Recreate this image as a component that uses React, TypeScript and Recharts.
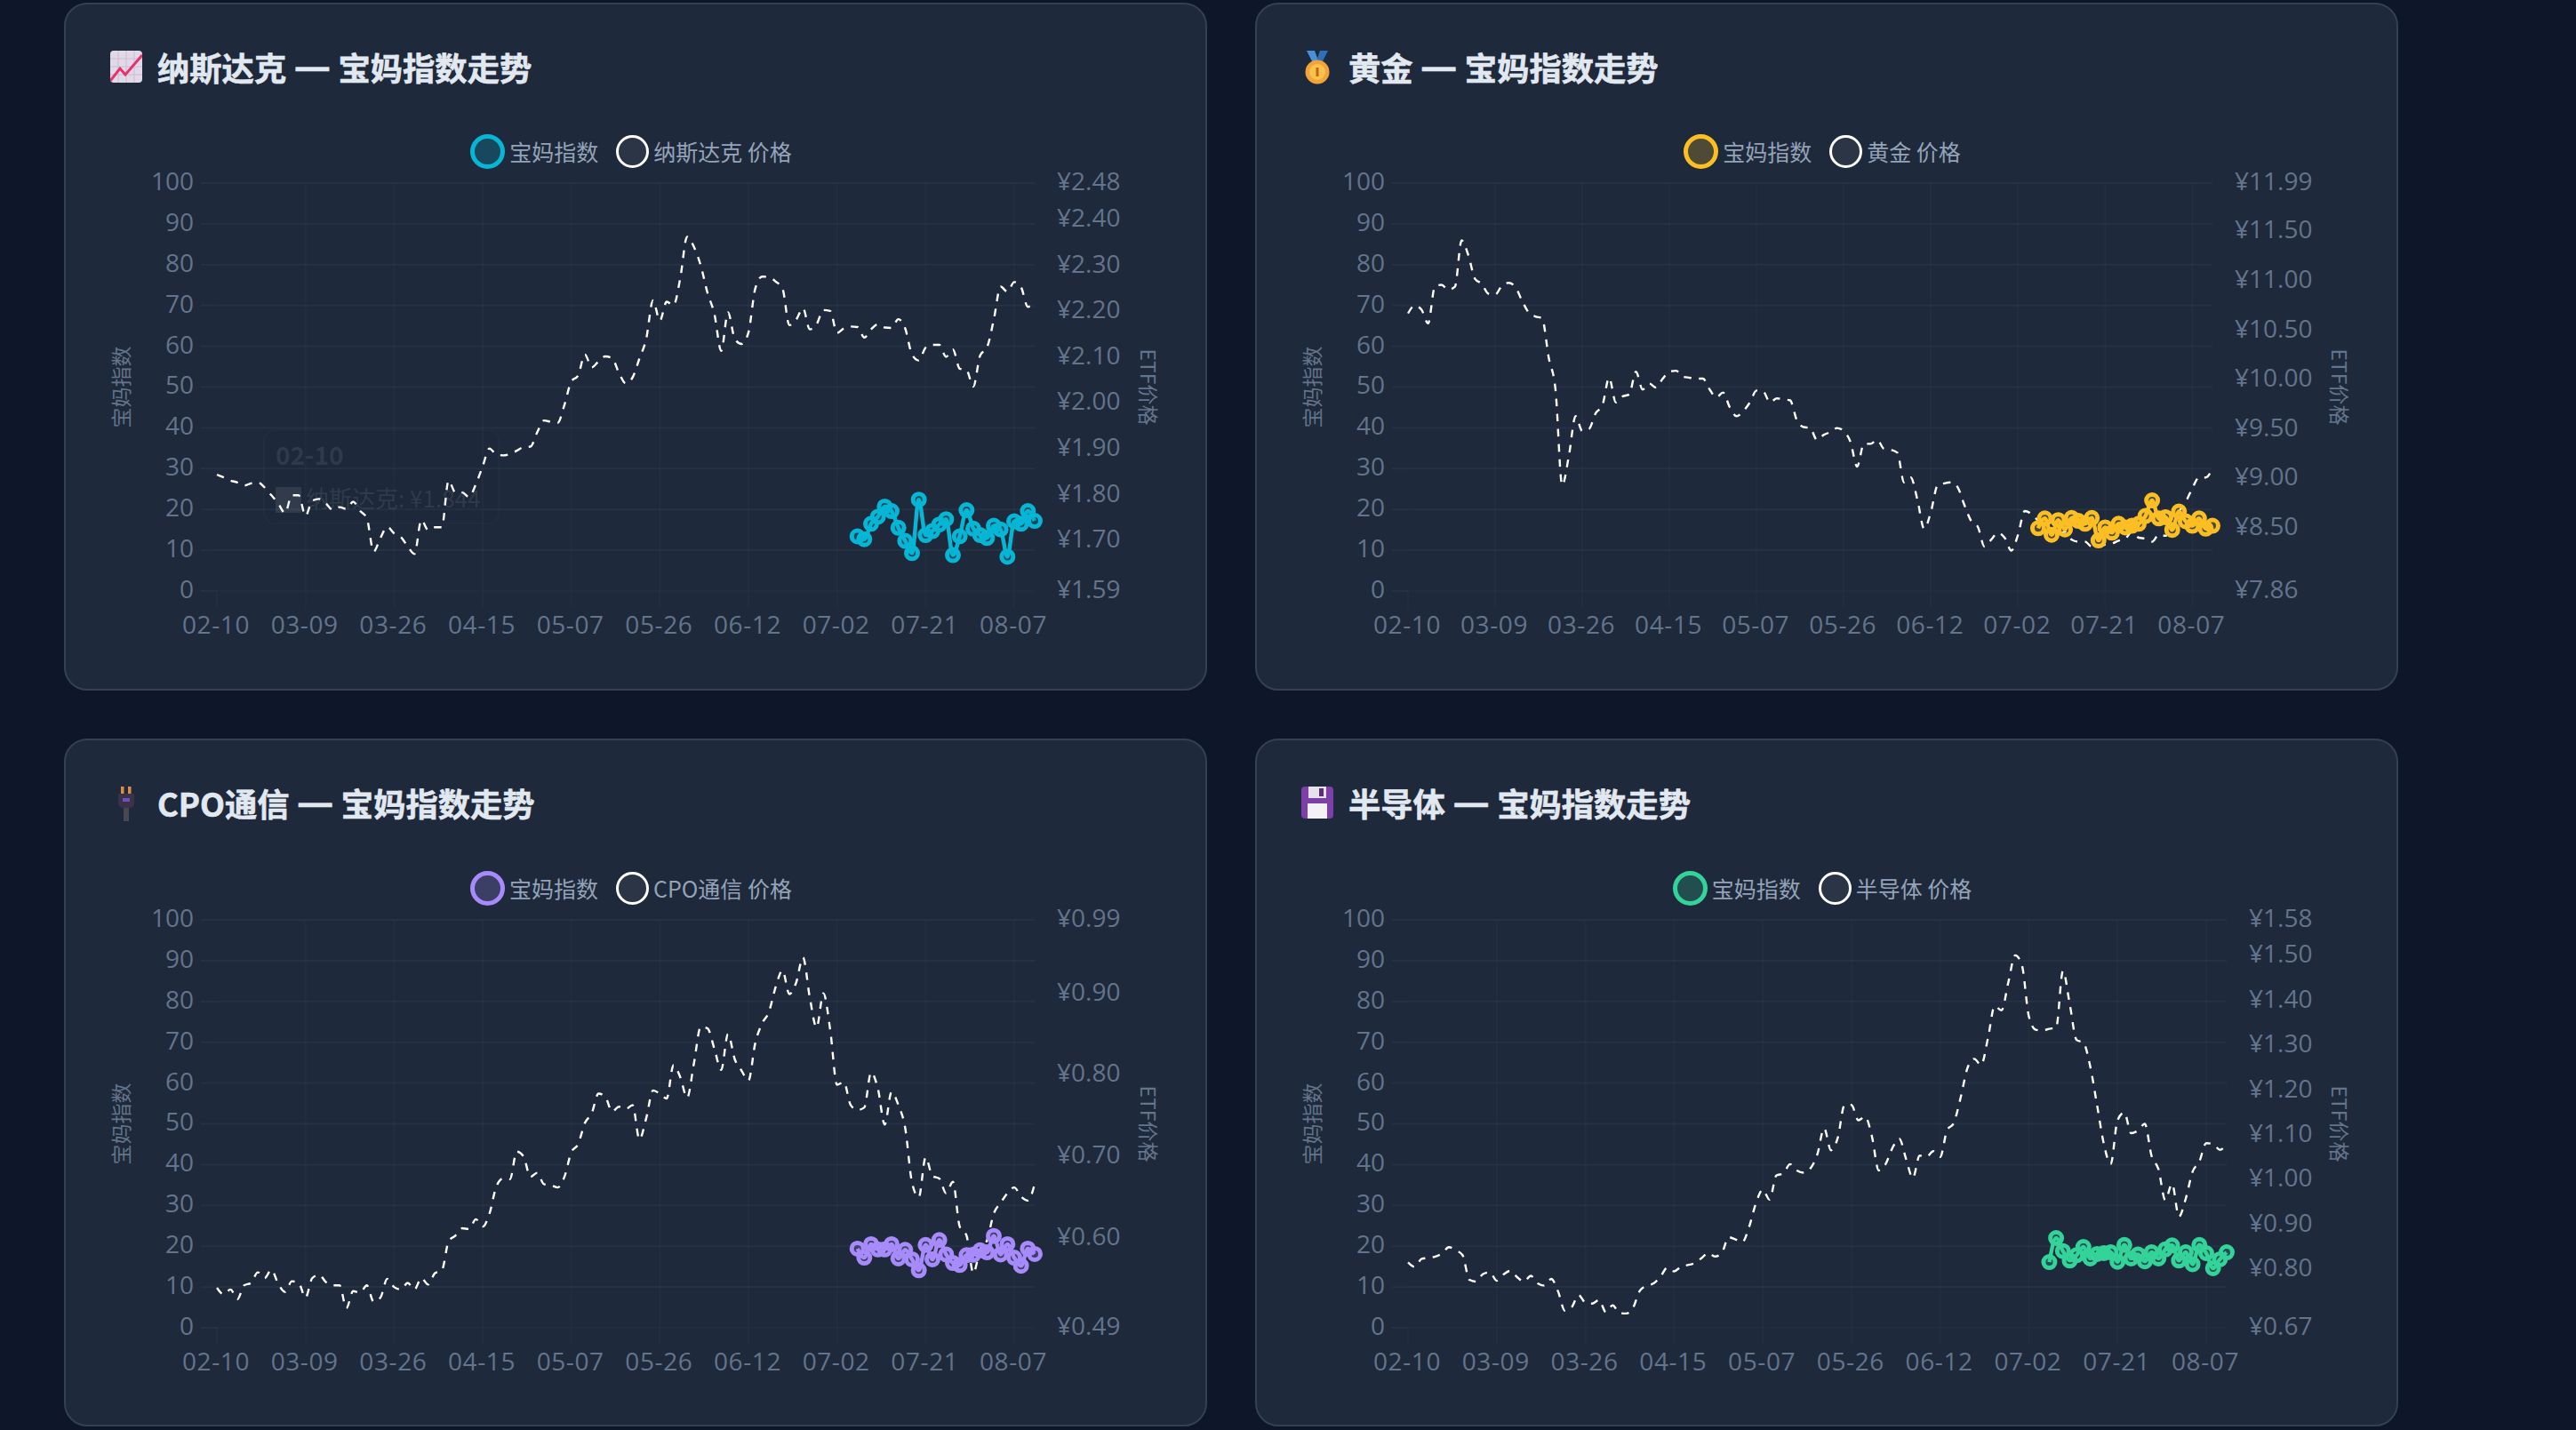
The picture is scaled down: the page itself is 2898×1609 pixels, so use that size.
import { LineChart, Line, XAxis, YAxis, CartesianGrid, Legend } from 'recharts';

const DATES = [
  '02-10','02-11','02-12','02-13','02-24','02-25','02-26','02-27','03-02','03-03','03-04','03-05','03-06',
  '03-09','03-10','03-11','03-12','03-13','03-16','03-17','03-18','03-19','03-20','03-23','03-24','03-25',
  '03-26','03-27','03-30','03-31','04-01','04-02','04-03','04-07','04-08','04-09','04-10','04-13','04-14',
  '04-15','04-16','04-17','04-20','04-21','04-22','04-23','04-24','04-27','04-28','04-29','04-30','05-06',
  '05-07','05-08','05-11','05-12','05-13','05-14','05-15','05-18','05-19','05-20','05-21','05-22','05-25',
  '05-26','05-27','05-28','05-29','06-01','06-02','06-03','06-04','06-05','06-08','06-09','06-10','06-11',
  '06-12','06-15','06-16','06-17','06-18','06-22','06-23','06-24','06-25','06-26','06-29','06-30','07-01',
  '07-02','07-03','07-06','07-07','07-08','07-09','07-10','07-13','07-14','07-15','07-16','07-17','07-20',
  '07-21','07-22','07-23','07-24','07-27','07-28','07-29','07-30','07-31','08-03','08-04','08-05','08-06',
  '08-07','08-10','08-11','08-12',
];
// the index series only exists for the last 27 trading days
const INDEX_START = 94;

const NASDAQ_PRICE = [
  1.844,1.838,1.831,1.827,1.820,1.825,1.827,1.816,1.799,1.781,1.760,1.799,1.799,1.754,1.787,1.791,1.781,1.767,1.773,1.769,
  1.785,1.765,1.749,1.676,1.706,1.730,1.716,1.708,1.687,1.671,1.745,1.723,1.729,1.729,1.831,1.805,1.805,1.795,1.823,1.862,
  1.901,1.888,1.886,1.889,1.896,1.904,1.905,1.936,1.962,1.959,1.957,1.996,2.047,2.060,2.106,2.078,2.091,2.102,2.098,2.066,
  2.043,2.056,2.097,2.140,2.224,2.180,2.221,2.213,2.273,2.363,2.341,2.300,2.240,2.195,2.114,2.198,2.140,2.129,2.154,2.250,
  2.276,2.275,2.265,2.250,2.170,2.182,2.207,2.161,2.172,2.203,2.201,2.153,2.163,2.167,2.166,2.143,2.161,2.172,2.165,2.164,
  2.183,2.163,2.106,2.093,2.121,2.127,2.127,2.101,2.117,2.075,2.072,2.036,2.104,2.121,2.182,2.254,2.243,2.264,2.253,2.210,
  2.218,
];
const NASDAQ_INDEX = [13.4,12.7,16.5,18.2,20.7,19.6,15.5,12.3,9.3,22.4,13.7,14.7,16.3,17.6,8.8,13.4,19.8,15.3,13.7,13.0,16.0,15.1,8.4,17.1,16.5,19.6,17.2];
const NASDAQ_TICKS = [1.59,1.7,1.8,1.9,2.0,2.1,2.2,2.3,2.4,2.48];

const GOLD_PRICE = [
  10.67,10.75,10.71,10.57,10.94,10.96,10.91,10.94,11.41,11.26,11.02,10.97,10.87,10.86,10.95,10.98,10.94,10.80,10.68,10.64,
  10.62,10.22,9.90,8.93,9.23,9.63,9.48,9.50,9.66,9.74,10.02,9.77,9.83,9.85,10.08,9.90,9.96,9.92,10.01,10.08,
  10.09,10.03,10.02,10.01,10.01,9.90,9.82,9.87,9.72,9.63,9.68,9.77,9.89,9.88,9.77,9.81,9.80,9.79,9.59,9.52,
  9.51,9.39,9.44,9.47,9.51,9.48,9.37,9.12,9.35,9.35,9.39,9.30,9.29,9.26,8.96,9.01,8.78,8.49,8.66,8.93,
  8.95,8.96,8.91,8.73,8.57,8.51,8.31,8.38,8.45,8.40,8.27,8.43,8.67,8.64,8.57,8.49,8.46,8.43,8.46,8.38,
  8.36,8.36,8.31,8.31,8.33,8.34,8.37,8.39,8.46,8.40,8.39,8.36,8.43,8.42,8.51,8.66,8.76,8.90,9.01,9.01,
  9.10,
];
const GOLD_INDEX = [15.4,17.8,13.8,17.4,15.1,17.9,17.2,16.5,17.9,12.4,15.6,14.3,16.5,15.6,16.0,16.5,18.4,22.2,17.8,18.1,15.0,19.5,17.1,16.0,17.8,15.3,16.0];
const GOLD_TICKS = [7.86,8.5,9,9.5,10,10.5,11,11.5,11.99];

const CPO_PRICE = [
  0.539,0.531,0.537,0.525,0.542,0.545,0.558,0.551,0.561,0.544,0.534,0.547,0.545,0.527,0.551,0.555,0.546,0.542,0.542,0.514,
  0.535,0.533,0.542,0.522,0.527,0.550,0.540,0.537,0.545,0.537,0.551,0.543,0.557,0.560,0.596,0.603,0.612,0.611,0.623,0.614,
  0.630,0.663,0.673,0.672,0.706,0.700,0.675,0.680,0.666,0.665,0.662,0.675,0.705,0.715,0.741,0.753,0.777,0.773,0.755,0.761,
  0.758,0.763,0.721,0.747,0.781,0.777,0.771,0.812,0.797,0.772,0.814,0.859,0.857,0.832,0.806,0.850,0.819,0.805,0.793,0.839,
  0.863,0.877,0.908,0.928,0.899,0.913,0.944,0.895,0.858,0.900,0.855,0.788,0.791,0.763,0.757,0.760,0.803,0.783,0.739,0.779,
  0.763,0.735,0.668,0.650,0.699,0.676,0.673,0.655,0.669,0.614,0.603,0.557,0.586,0.597,0.630,0.643,0.655,0.662,0.651,0.646,
  0.666,
];
const CPO_INDEX = [19.4,17.2,20.5,19.2,19.2,20.5,17.0,19.1,16.8,14.1,20.3,16.8,21.5,18.0,15.9,15.4,17.8,17.9,19.0,18.5,22.5,18.0,20.5,17.2,15.2,19.4,18.1];
const CPO_TICKS = [0.49,0.6,0.7,0.8,0.9,0.99];

const CHIP_PRICE = [
  0.816,0.806,0.824,0.826,0.829,0.836,0.850,0.843,0.832,0.777,0.773,0.790,0.794,0.775,0.789,0.797,0.783,0.773,0.786,0.769,
  0.764,0.779,0.751,0.708,0.716,0.743,0.726,0.724,0.732,0.705,0.720,0.703,0.702,0.715,0.753,0.764,0.769,0.784,0.804,0.796,
  0.806,0.810,0.814,0.825,0.837,0.829,0.837,0.872,0.867,0.861,0.895,0.948,0.978,0.956,1.010,1.014,1.035,1.021,1.016,1.026,
  1.057,1.115,1.066,1.094,1.167,1.167,1.133,1.141,1.097,1.021,1.035,1.071,1.092,1.047,1.004,1.054,1.051,1.064,1.051,1.110,
  1.127,1.183,1.249,1.270,1.256,1.315,1.388,1.378,1.441,1.501,1.478,1.365,1.335,1.333,1.337,1.339,1.466,1.392,1.312,1.306,
  1.253,1.167,1.080,1.035,1.133,1.150,1.104,1.110,1.125,1.053,1.024,0.955,0.991,0.918,0.958,1.018,1.041,1.082,1.080,1.067,
  1.080,
];
const CHIP_INDEX = [16.1,22.0,18.8,16.5,17.8,19.8,17.0,18.1,18.3,18.5,16.2,20.3,17.0,18.0,16.3,18.5,17.0,19.2,20.2,16.5,18.5,15.6,20.3,18.3,14.6,16.8,18.5];
const CHIP_TICKS = [0.67,0.8,0.9,1.0,1.1,1.2,1.3,1.4,1.5,1.58];

const INDEX_TICKS = [0,10,20,30,40,50,60,70,80,90,100];

const TICK_FONT = '"Open Sans", sans-serif';
const CJK_FONT = '"Noto Sans CJK SC", sans-serif';
const TICK_COLOR = '#64748b';
const GRID_H = 'rgba(148,163,184,0.07)';
const GRID_V = 'rgba(148,163,184,0.045)';
const AXIS_EDGE = 'rgba(0,0,0,0.1)';

function buildRows(prices: number[], index: number[]) {
  return DATES.map((date, i) => ({
    date,
    price: prices[i],
    index: i >= INDEX_START ? index[i - INDEX_START] : null,
  }));
}

function ChartIcon() {
  return (
    <svg width="36" height="36" viewBox="0 0 36 36">
      <rect width="36" height="36" rx="4" fill="#e2d9e8" />
      <path d="M9 0V36M18 0V36M27 0V36M0 9H36M0 18H36M0 27H36" stroke="#c9bdd2" strokeWidth="1" />
      <path d="M0 34L11 20L17 27L36 5" fill="none" stroke="#e8326a" strokeWidth="3" />
    </svg>
  );
}

function MedalIcon() {
  return (
    <svg width="36" height="38" viewBox="0 0 36 38">
      <path d="M6 0H15L20 14H13Z" fill="#4a90d9" />
      <path d="M30 0H21L16 14H23Z" fill="#2f6fb8" />
      <circle cx="18" cy="24" r="13.5" fill="#f2a33a" />
      <circle cx="18" cy="24" r="9" fill="#f8c24c" />
      <rect x="16.5" y="19" width="3" height="10" fill="#b96a12" />
    </svg>
  );
}

function PlugIcon() {
  return (
    <svg width="36" height="48" viewBox="0 0 36 48">
      <rect x="12" y="0" width="3.5" height="8" fill="#d98f3f" />
      <rect x="20" y="0" width="3.5" height="8" fill="#d98f3f" />
      <path d="M9 8H27V18Q27 24 21 24H15Q9 24 9 18Z" fill="#3a3348" />
      <rect x="14" y="13" width="8" height="4" fill="#6d4fc0" />
      <rect x="15" y="24" width="6" height="15" fill="#4a4754" />
    </svg>
  );
}

function FloppyIcon() {
  return (
    <svg width="36" height="36" viewBox="0 0 36 36">
      <rect width="36" height="36" rx="4" fill="#7d3fa8" />
      <rect x="8" y="0" width="20" height="13" fill="#e7e1ec" />
      <rect x="20" y="2" width="5" height="9" fill="#5c2c80" />
      <rect x="7" y="19" width="22" height="17" fill="#f4f0f7" />
    </svg>
  );
}

const PANELS = [
  { name: '纳斯达克', left: 72, top: 3, chartTop: 135, color: '#06b6d4', tint: 'rgba(6,182,212,0.22)', prices: NASDAQ_PRICE, index: NASDAQ_INDEX, ticks: NASDAQ_TICKS, rightWidth: 146, icon: <ChartIcon /> },
  { name: '黄金', left: 1412, top: 3, chartTop: 135, color: '#fbbf24', tint: 'rgba(251,191,36,0.22)', prices: GOLD_PRICE, index: GOLD_INDEX, ticks: GOLD_TICKS, rightWidth: 161, icon: <MedalIcon /> },
  { name: 'CPO通信', left: 72, top: 831, chartTop: 136, color: '#a78bfa', tint: 'rgba(167,139,250,0.22)', prices: CPO_PRICE, index: CPO_INDEX, ticks: CPO_TICKS, rightWidth: 146, icon: <PlugIcon /> },
  { name: '半导体', left: 1412, top: 831, chartTop: 136, color: '#34d399', tint: 'rgba(52,211,153,0.22)', prices: CHIP_PRICE, index: CHIP_INDEX, ticks: CHIP_TICKS, rightWidth: 145, icon: <FloppyIcon /> },
];

function LegendRow({ name, color, tint }: { name: string; color: string; tint: string }) {
  const circle = (stroke: string, fill: string, w: number, size: number) => (
    <span style={{ width: size, height: size, boxSizing: 'border-box', borderRadius: '50%', border: `${w}px solid ${stroke}`, background: fill, marginRight: 5 }} />
  );
  return (
    <div style={{ display: 'flex', justifyContent: 'center', alignItems: 'center', height: 39, marginTop: 11, fontFamily: CJK_FONT, fontSize: 25, color: '#94a3b8' }}>
      {circle(color, tint, 5, 39)}
      <span style={{ marginRight: 20, position: 'relative', top: -1 }}>宝妈指数</span>
      {circle('#ffffff', 'rgba(255,255,255,0.06)', 3.5, 37)}
      <span style={{ position: 'relative', top: -1 }}>{name} 价格</span>
    </div>
  );
}

function Panel({ name, left, top, chartTop, color, tint, prices, index, ticks, rightWidth, icon }: (typeof PANELS)[number]) {
  const rows = buildRows(prices, index);
  const tickStyle = { fontSize: 28, fontFamily: TICK_FONT, fill: TICK_COLOR, dy: -2 };
  return (
    <div style={{ position: 'absolute', left, top, width: 1286, height: 774, boxSizing: 'border-box', background: '#1e293b', border: '2px solid #334155', borderRadius: 26 }}>
      <div style={{ position: 'absolute', left: 50, top: 52, width: 36, height: 48, display: 'flex', justifyContent: 'center' }}>{icon}</div>
      <div style={{ position: 'absolute', left: 103, top: 44, fontFamily: CJK_FONT, fontWeight: 700, fontSize: 36.3, lineHeight: '52px', color: '#e2e8f0', whiteSpace: 'nowrap', WebkitTextStroke: '0.6px #e2e8f0' }}>
        {name} <span style={{ fontSize: 46, lineHeight: '40px' }}>—</span> 宝妈指数走势
      </div>
      <div style={{ position: 'absolute', left: 36, top: chartTop }}>
        <LineChart width={1200} height={585} data={rows} margin={{ top: 0, right: 0, bottom: 0, left: 0 }}>
          <CartesianGrid yAxisId="index" horizontal vertical={false} stroke={GRID_H} strokeWidth={2} />
          <CartesianGrid yAxisId="index" horizontal={false} vertical stroke={GRID_V} strokeWidth={2} />
          <XAxis
            dataKey="date"
            interval={12}
            height={60}
            tickSize={18}
            tickMargin={10}
            tickLine={{ stroke: GRID_V, strokeWidth: 2 }}
            axisLine={{ stroke: AXIS_EDGE, strokeWidth: 2 }}
            tick={{ fontSize: 28, fontFamily: TICK_FONT, fill: TICK_COLOR, letterSpacing: 0.6, dx: -1 }}
          />
          <YAxis
            yAxisId="index"
            orientation="left"
            width={134}
            domain={[0, 100]}
            ticks={INDEX_TICKS}
            interval={0}
            tickSize={18}
            tickMargin={8}
            tickLine={{ stroke: GRID_H, strokeWidth: 2 }}
            axisLine={{ stroke: AXIS_EDGE, strokeWidth: 2 }}
            tick={tickStyle}
            label={{ value: '宝妈指数', angle: -90, position: 'insideLeft', offset: 27, style: { fontSize: 23, fontFamily: CJK_FONT, fill: TICK_COLOR, textAnchor: 'middle' } }}
          />
          <YAxis
            yAxisId="price"
            orientation="right"
            width={rightWidth}
            domain={[ticks[0], ticks[ticks.length - 1]]}
            ticks={ticks}
            interval={0}
            tickSize={0}
            tickMargin={25}
            tickLine={false}
            axisLine={{ stroke: AXIS_EDGE, strokeWidth: 2 }}
            tick={tickStyle}
            tickFormatter={(v: number) => `¥${v.toFixed(2)}`}
            label={{ value: 'ETF价格', angle: 90, position: 'insideRight', offset: 19, style: { fontSize: 23, fontFamily: CJK_FONT, fill: TICK_COLOR, textAnchor: 'middle' } }}
          />
          <Legend
            verticalAlign="top"
            wrapperStyle={{ height: 66, top: 0, left: 0, width: 1200 }}
            content={() => <LegendRow name={name} color={color} tint={tint} />}
          />
          <Line yAxisId="price" dataKey="price" type="monotone" stroke="#ffffff" strokeWidth={2.4} strokeDasharray="8.5 8.5" dot={false} activeDot={false} isAnimationActive={false} />
          <Line
            yAxisId="index"
            dataKey="index"
            type="monotone"
            stroke={color}
            strokeWidth={4.5}
            dot={{ r: 6.5, strokeWidth: 5, stroke: color, fill: tint }}
            activeDot={false}
            isAnimationActive={false}
          />
        </LineChart>
      </div>
    </div>
  );
}

// tooltip caught mid fade-out in the first panel
function GhostTip() {
  return (
    <div style={{ position: 'absolute', left: 296, top: 483, width: 266, height: 107, boxSizing: 'border-box', border: '2px solid rgba(148,163,184,0.03)', borderRadius: 14, background: 'rgba(15,23,42,0.02)', pointerEvents: 'none' }}>
      <div style={{ position: 'absolute', left: 12, top: 6, fontFamily: CJK_FONT, fontWeight: 700, fontSize: 28, color: 'rgba(226,232,240,0.1)' }}>02-10</div>
      <div style={{ position: 'absolute', left: 12, top: 63, width: 29, height: 29, background: 'rgba(226,232,240,0.1)' }} />
      <div style={{ position: 'absolute', left: 46, top: 56, fontFamily: CJK_FONT, fontSize: 26, color: 'rgba(226,232,240,0.1)', whiteSpace: 'nowrap' }}>纳斯达克: ¥1.844</div>
    </div>
  );
}

export default function App() {
  return (
    <div style={{ position: 'absolute', left: 0, top: 0, width: 2898, height: 1609, overflow: 'hidden', background: '#0e1729' }}>
      {PANELS.map((p) => (
        <Panel key={p.name} {...p} />
      ))}
      <GhostTip />
    </div>
  );
}
